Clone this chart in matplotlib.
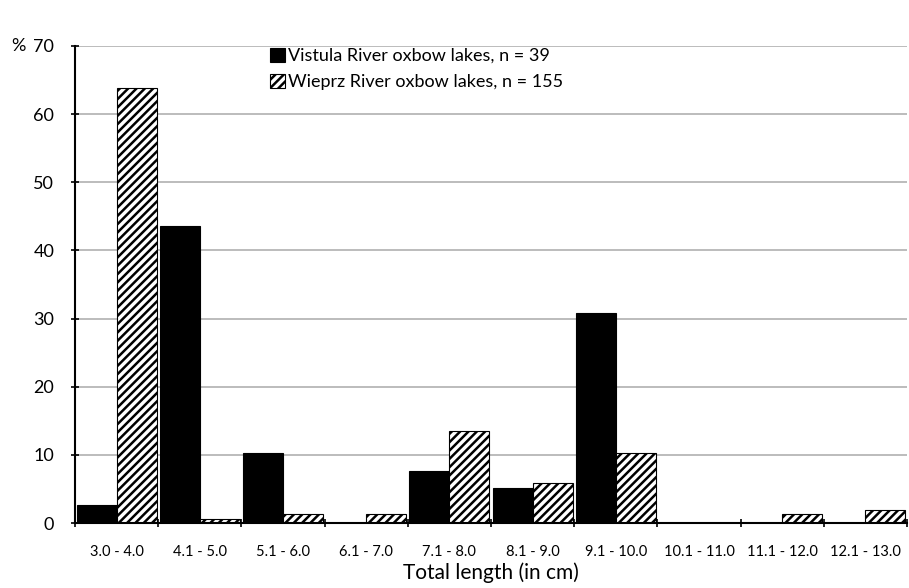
import numpy as np
import matplotlib
matplotlib.use('Agg')
import matplotlib.pyplot as plt

categories = ['3.0 - 4.0', '4.1 - 5.0', '5.1 - 6.0', '6.1 - 7.0', '7.1 - 8.0',
              '8.1 - 9.0', '9.1 - 10.0', '10.1 - 11.0', '11.1 - 12.0', '12.1 - 13.0']
vistula = [2.6, 43.6, 10.3, 0.0, 7.7, 5.1, 30.8, 0.0, 0.0, 0.0]
wieprz = [63.9, 0.6, 1.3, 1.3, 13.5, 5.8, 10.3, 0.0, 1.3, 1.9]
yticks = [0, 10, 20, 30, 40, 50, 60, 70]


def main():
    plt.rcParams['font.family'] = ['Lato', 'DejaVu Sans']
    plt.rcParams['hatch.linewidth'] = 1.8
    fig = plt.figure(figsize=(9.09, 5.88), dpi=100)
    ax = fig.add_axes([75 / 909, 1 - 523 / 588, 832 / 909, 477 / 588])

    x = np.arange(len(categories))
    width = 0.48
    ax.bar(x - width / 2, vistula, width, color='black', edgecolor='black', linewidth=0.8,
           label='Vistula River oxbow lakes, n = 39', zorder=3)
    ax.bar(x + width / 2, wieprz, width, color='white', edgecolor='black', hatch='////',
           linewidth=0.8, label='Wieprz River oxbow lakes, n = 155', zorder=3)

    ax.set_xlim(-0.5, len(categories) - 0.5)
    ax.set_ylim(0, 70)
    ax.set_yticks(yticks)
    ax.yaxis.grid(True, color='#b0b0b0', linewidth=1.2, zorder=0)
    ax.set_axisbelow(True)

    ax.set_xticks(x)
    ax.set_xticklabels(categories, fontsize=10.5)
    ax.tick_params(axis='x', length=0, pad=16)
    ax.set_xticks(np.arange(len(categories) + 1) - 0.5, minor=True)
    ax.tick_params(axis='x', which='minor', length=6, width=1.2, direction='inout')
    ax.tick_params(axis='y', labelsize=13, length=6, width=1.2, direction='inout', pad=12)

    for side in ['top', 'right']:
        ax.spines[side].set_visible(False)
    for side in ['left', 'bottom']:
        ax.spines[side].set_linewidth(1.5)
        ax.spines[side].set_zorder(5)

    ax.set_xlabel('Total length (in cm)', fontsize=15, labelpad=2)
    ax.text(-0.077, 1.0, '%', transform=ax.transAxes, fontsize=13, ha='left', va='center')

    ax.legend(loc='upper left', bbox_to_anchor=(0.215, 1.03), frameon=False, fontsize=13,
              handlelength=0.8, handleheight=0.8, handletextpad=0.2, labelspacing=0.55)

    fig.savefig('out.png', dpi=100)


if __name__ == "__main__":
    main()
